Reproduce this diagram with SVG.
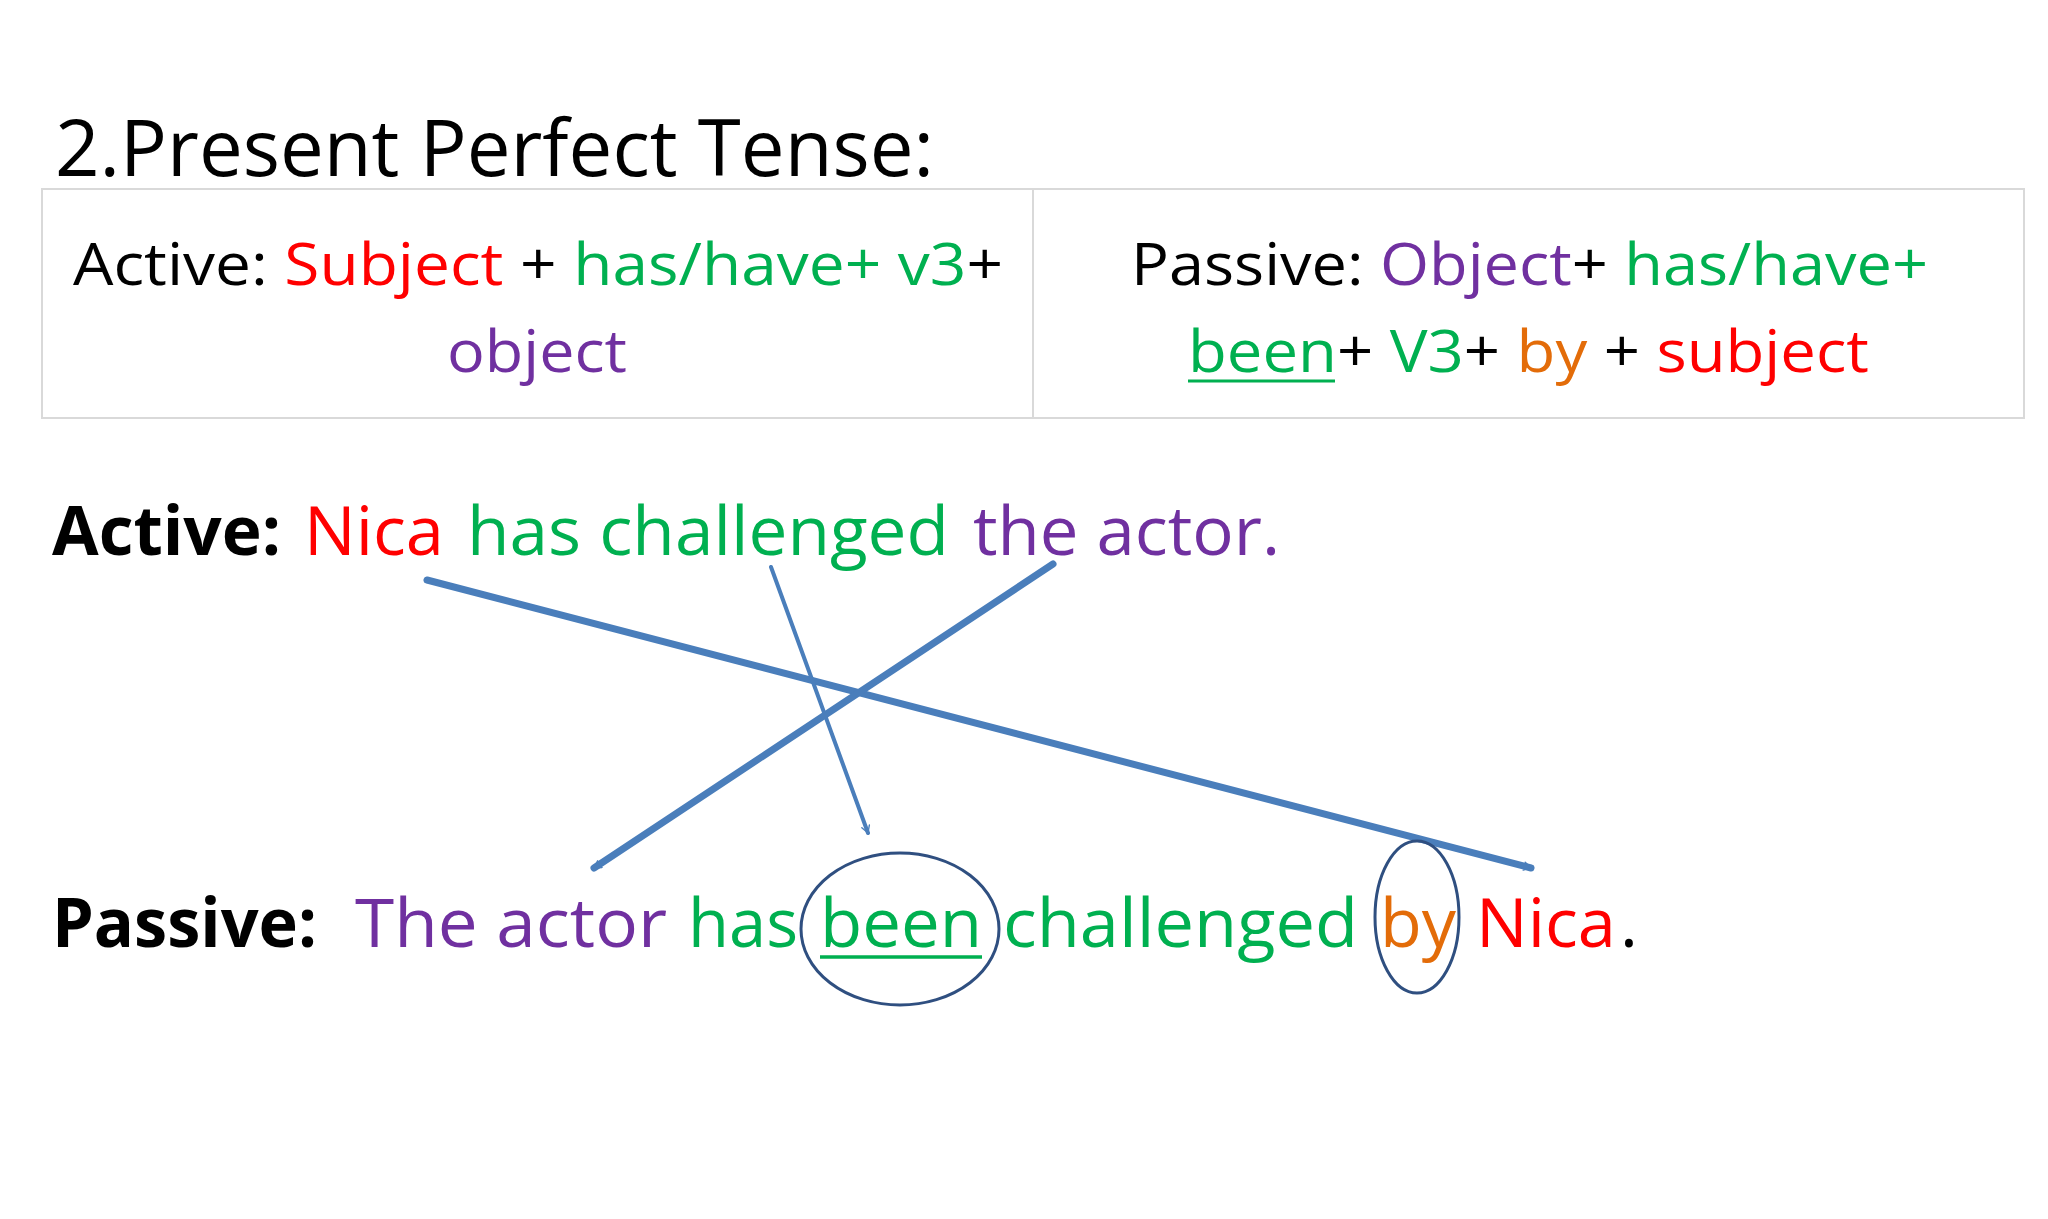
<svg xmlns="http://www.w3.org/2000/svg" width="2048" height="1219" viewBox="0 0 2048 1219">
<style>
text{font-family:"Open Sans","Liberation Sans",sans-serif}
.r{fill:#ff0000}.g{fill:#00b050}.p{fill:#7030a0}.o{fill:#e36c09}.k{fill:#000}
.arr{stroke:#4a7ebb;fill:none;stroke-linecap:round}
.ell{stroke:#2f4f80;stroke-width:3;fill:none}
</style>
<defs>
<marker id="ah" markerWidth="10" markerHeight="10" refX="8" refY="5" orient="auto" markerUnits="userSpaceOnUse" viewBox="0 0 10 10"><path d="M1,1 L8,5 L1,9" fill="none" stroke="#4a7ebb" stroke-width="1.4" stroke-linecap="round"/></marker>
</defs>
<rect width="2048" height="1219" fill="#fff"/>
<g id="title"><text x="55" y="176" font-size="78" textLength="879" lengthAdjust="spacingAndGlyphs" class="k">2.Present Perfect Tense:</text></g>
<g id="table">
<rect x="42" y="189" width="1982" height="229" fill="none" stroke="#d9d9d9" stroke-width="2"/>
<line x1="1033" y1="189" x2="1033" y2="418" stroke="#d9d9d9" stroke-width="2"/>
<text x="73" y="285" font-size="58" textLength="930" lengthAdjust="spacingAndGlyphs"><tspan class="k">Active: </tspan><tspan class="r">Subject</tspan><tspan class="k"> + </tspan><tspan class="g">has/have+ v3</tspan><tspan class="k">+</tspan></text>
<text x="447" y="372" font-size="58" textLength="180" lengthAdjust="spacingAndGlyphs" class="p">object</text>
<text x="1131" y="285" font-size="58" textLength="797" lengthAdjust="spacingAndGlyphs"><tspan class="k">Passive: </tspan><tspan class="p">Object</tspan><tspan class="k">+ </tspan><tspan class="g">has/have+</tspan></text>
<text x="1188" y="372" font-size="58" textLength="681" lengthAdjust="spacingAndGlyphs"><tspan class="g">been</tspan><tspan class="k">+ </tspan><tspan class="g">V3</tspan><tspan class="k">+ </tspan><tspan class="o">by</tspan><tspan class="k"> + </tspan><tspan class="r">subject</tspan></text>
<line x1="1188" y1="381" x2="1335" y2="381" stroke="#00b050" stroke-width="3"/>
</g>
<g id="active" font-size="68">
<text x="52" y="555" font-weight="bold" textLength="229" lengthAdjust="spacingAndGlyphs" class="k">Active:</text>
<text x="304" y="555" textLength="140" lengthAdjust="spacingAndGlyphs" class="r">Nica</text>
<text x="467" y="555" textLength="482" lengthAdjust="spacingAndGlyphs" class="g">has challenged</text>
<text x="973" y="555" textLength="307" lengthAdjust="spacingAndGlyphs" class="p">the actor.</text>
</g>
<g id="passive" font-size="68">
<text x="52" y="947" font-weight="bold" textLength="265" lengthAdjust="spacingAndGlyphs" class="k">Passive:</text>
<text x="355" y="947" textLength="312" lengthAdjust="spacingAndGlyphs" class="p">The actor</text>
<text x="688" y="947" textLength="110" lengthAdjust="spacingAndGlyphs" class="g">has</text>
<text x="820" y="947" textLength="162" lengthAdjust="spacingAndGlyphs" class="g">been</text>
<line x1="820" y1="957" x2="982" y2="957" stroke="#00b050" stroke-width="3.5"/>
<text x="1003" y="947" textLength="355" lengthAdjust="spacingAndGlyphs" class="g">challenged</text>
<text x="1380" y="947" textLength="76" lengthAdjust="spacingAndGlyphs" class="o">by</text>
<text x="1476" y="947" textLength="140" lengthAdjust="spacingAndGlyphs" class="r">Nica</text>
<text x="1620" y="947" class="k">.</text>
</g>
<g id="connectors">
<line class="arr" x1="427" y1="580" x2="1531" y2="868" stroke-width="7" marker-end="url(#ah)"/>
<line class="arr" x1="771" y1="567" x2="868" y2="833" stroke-width="4" marker-end="url(#ah)"/>
<line class="arr" x1="1053" y1="564" x2="594" y2="868" stroke-width="7" marker-end="url(#ah)"/>
<ellipse class="ell" cx="900" cy="929" rx="99" ry="76"/>
<ellipse class="ell" cx="1417" cy="917" rx="42" ry="76"/>
</g>
</svg>
